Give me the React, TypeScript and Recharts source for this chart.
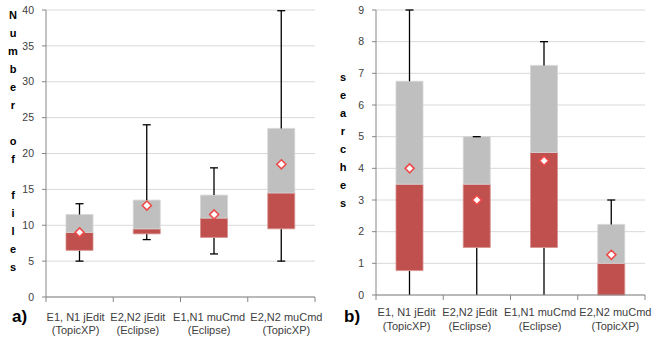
import React from 'react';
import { ComposedChart, Bar, Line, XAxis, YAxis, CartesianGrid } from 'recharts';

// Category labels
const catTop = ['E1, N1 jEdit', 'E2,N2 jEdit', 'E1,N1 muCmd', 'E2,N2 muCmd'];
const catBottom = ['(TopicXP)', '(Eclipse)', '(Eclipse)', '(TopicXP)'];

// a) Number of files
const filesMin = [5, 8, 6, 5];
const filesQ1 = [6.5, 8.8, 8.3, 9.5];
const filesMedian = [9, 9.5, 11, 14.5];
const filesQ3 = [11.5, 13.5, 14.2, 23.5];
const filesMax = [13, 24, 18, 39.9];
const filesMean = [9, 12.75, 11.5, 18.5];
const filesTicks = [0, 5, 10, 15, 20, 25, 30, 35, 40];

// b) searches
const searchMin = [0, 0, 0, 0];
const searchQ1 = [0.77, 1.5, 1.5, 0];
const searchMedian = [3.5, 3.5, 4.5, 1];
const searchQ3 = [6.75, 5, 7.25, 2.23];
const searchMax = [9, 5, 8, 3];
const searchMean = [4, 3, 4.24, 1.27];
const searchTicks = [0, 1, 2, 3, 4, 5, 6, 7, 8, 9];

// style constants
const labelShiftA = [-4, -9, -5, 5];
const labelShiftB = [-3, -7, -4, 4];
const AXIS = '#868686';
const RED = '#C0504D';
const GRAY = '#BFBFBF';
const FONT = '"Liberation Sans", Arial, sans-serif';
const Y_AXIS_WIDTH = 46;

function buildRows(mn: number[], q1: number[], med: number[], q3: number[], mx: number[], mean: number[]) {
  return catTop.map((c, i) => ({
    key: c,
    base: mn[i],
    lowW: q1[i] - mn[i],
    red: med[i] - q1[i],
    gray: q3[i] - med[i],
    highW: mx[i] - q3[i],
    mean: mean[i],
  }));
}

const filesRows = buildRows(filesMin, filesQ1, filesMedian, filesQ3, filesMax, filesMean);
const searchRows = buildRows(searchMin, searchQ1, searchMedian, searchQ3, searchMax, searchMean);

const WhiskerLow = (props: any) => {
  const { x, y, width, height, payload } = props;
  const cx = x + width / 2;
  const top = Math.min(y, y + height);
  const bot = Math.max(y, y + height);
  return (
    <g>
      <line x1={cx} x2={cx} y1={top} y2={bot} stroke="#000" strokeWidth={1.3} />
      {payload && payload.base > 0 && (
        <line x1={cx - 4} x2={cx + 4} y1={bot} y2={bot} stroke="#000" strokeWidth={1.3} />
      )}
    </g>
  );
};

const WhiskerHigh = (props: any) => {
  const { x, y, width, height } = props;
  const cx = x + width / 2;
  const top = Math.min(y, y + height);
  const bot = Math.max(y, y + height);
  return (
    <g>
      <line x1={cx} x2={cx} y1={top} y2={bot} stroke="#000" strokeWidth={1.3} />
      <line x1={cx - 4} x2={cx + 4} y1={top} y2={top} stroke="#000" strokeWidth={1.3} />
    </g>
  );
};

const Diamond = (props: any) => {
  const { cx, cy } = props;
  if (cx == null || cy == null) return null;
  const r = 4.5;
  return (
    <polygon
      points={`${cx},${cy - r} ${cx + r},${cy} ${cx},${cy + r} ${cx - r},${cy}`}
      fill="#ffffff"
      stroke="#EE4A4A"
      strokeWidth={1.6}
    />
  );
};

const makeCatTick = (dy1: number, shift: number[], half: number, count: number) => (props: any) => {
  const { x, y, index } = props;
  const i = index ?? 0;
  return (
    <g>
      <line x1={x - half} x2={x - half} y1={y} y2={y + 5} stroke={AXIS} />
      {i === count - 1 && <line x1={x + half} x2={x + half} y1={y} y2={y + 5} stroke={AXIS} />}
      <text textAnchor="middle" fontSize={11} fontFamily={FONT} fill="#404040">
        <tspan x={x + shift[i]} y={y + dy1}>{catTop[i]}</tspan>
        <tspan x={x + shift[i]} y={y + dy1 + 13.5}>{catBottom[i]}</tspan>
      </text>
    </g>
  );
};

const makeStackedLabel = (text: string) => (props: any) => {
  const vb = props.viewBox || { x: 0, y: 0, width: 0, height: 0 };
  const chars = text.split('');
  const step = 18;
  const cx = vb.x + 13;
  const start = vb.y + vb.height / 2 - 12 - ((chars.length - 1) * step) / 2;
  return (
    <text textAnchor="middle" fontSize={11} fontWeight="bold" fontFamily={FONT} fill="#000">
      {chars.map((c, i) => (
        <tspan key={i} x={cx} y={start + i * step} dy="0.35em">
          {c === ' ' ? '\u00a0' : c}
        </tspan>
      ))}
    </text>
  );
};

function BoxChart(p: {
  width: number;
  rows: any[];
  ticks: number[];
  ylabel: string;
  marginRight: number;
  axisHeight: number;
  labelDy: number;
  shift: number[];
}) {
  const maxV = p.ticks[p.ticks.length - 1];
  const half = (p.width - Y_AXIS_WIDTH - p.marginRight) / p.rows.length / 2;
  return (
    <ComposedChart
      width={p.width}
      height={345}
      data={p.rows}
      margin={{ top: 10, right: p.marginRight, bottom: 0, left: 0 }}
      barSize={27}
    >
      <CartesianGrid xAxisId="cat" yAxisId="left" vertical={false} stroke="#D9D9D9" />
      <XAxis
        xAxisId="cat"
        dataKey="key"
        interval={0}
        tickLine={false}
        tickSize={0}
        tickMargin={0}
        axisLine={{ stroke: AXIS }}
        height={p.axisHeight}
        tick={makeCatTick(p.labelDy, p.shift, half, p.rows.length)}
      />
      <YAxis
        yAxisId="left"
        domain={[0, maxV]}
        ticks={p.ticks}
        interval={0}
        width={Y_AXIS_WIDTH}
        tickSize={4}
        tickMargin={8}
        axisLine={{ stroke: AXIS }}
        tickLine={{ stroke: AXIS }}
        tick={{ fontSize: 10.5, fill: '#404040', fontFamily: FONT }}
        label={{ content: makeStackedLabel(p.ylabel) } as any}
      />
      <YAxis
        yAxisId="right"
        orientation="right"
        domain={[0, 1]}
        width={0}
        tick={false}
        tickLine={false}
        axisLine={{ stroke: '#4A4A4A' }}
      />
      <Bar xAxisId="cat" yAxisId="left" stackId="box" dataKey="base" fill="none" isAnimationActive={false} />
      <Bar xAxisId="cat" yAxisId="left" stackId="box" dataKey="lowW" shape={WhiskerLow} isAnimationActive={false} />
      <Bar xAxisId="cat" yAxisId="left" stackId="box" dataKey="red" fill={RED} stroke="#D7908E" strokeWidth={0.8} isAnimationActive={false} />
      <Bar xAxisId="cat" yAxisId="left" stackId="box" dataKey="gray" fill={GRAY} stroke="#D6D6D6" strokeWidth={0.8} isAnimationActive={false} />
      <Bar xAxisId="cat" yAxisId="left" stackId="box" dataKey="highW" shape={WhiskerHigh} isAnimationActive={false} />
      <Line
        xAxisId="cat"
        yAxisId="left"
        dataKey="mean"
        stroke="none"
        dot={Diamond}
        activeDot={false}
        isAnimationActive={false}
      />
    </ComposedChart>
  );
}

export default function App() {
  return (
    <div style={{ position: 'absolute', left: 0, top: 0, width: 652, height: 345, background: '#fff', overflow: 'hidden' }}>
      <div style={{ position: 'absolute', left: 0, top: 0 }}>
        <BoxChart width={330} rows={filesRows} ticks={filesTicks} ylabel="Number of files" marginRight={15} axisHeight={48} labelDy={23.5} shift={labelShiftA} />
      </div>
      <div style={{ position: 'absolute', left: 330, top: 0 }}>
        <BoxChart width={322} rows={searchRows} ticks={searchTicks} ylabel="searches" marginRight={7} axisHeight={50} labelDy={21} shift={labelShiftB} />
      </div>
      <svg width={652} height={345} style={{ position: 'absolute', left: 0, top: 0, pointerEvents: 'none' }}>
        <text x={12} y={322} fontSize={17} fontWeight="bold" fontFamily={FONT} fill="#000">a)</text>
        <text x={344} y={322} fontSize={17} fontWeight="bold" fontFamily={FONT} fill="#000">b)</text>
      </svg>
    </div>
  );
}
